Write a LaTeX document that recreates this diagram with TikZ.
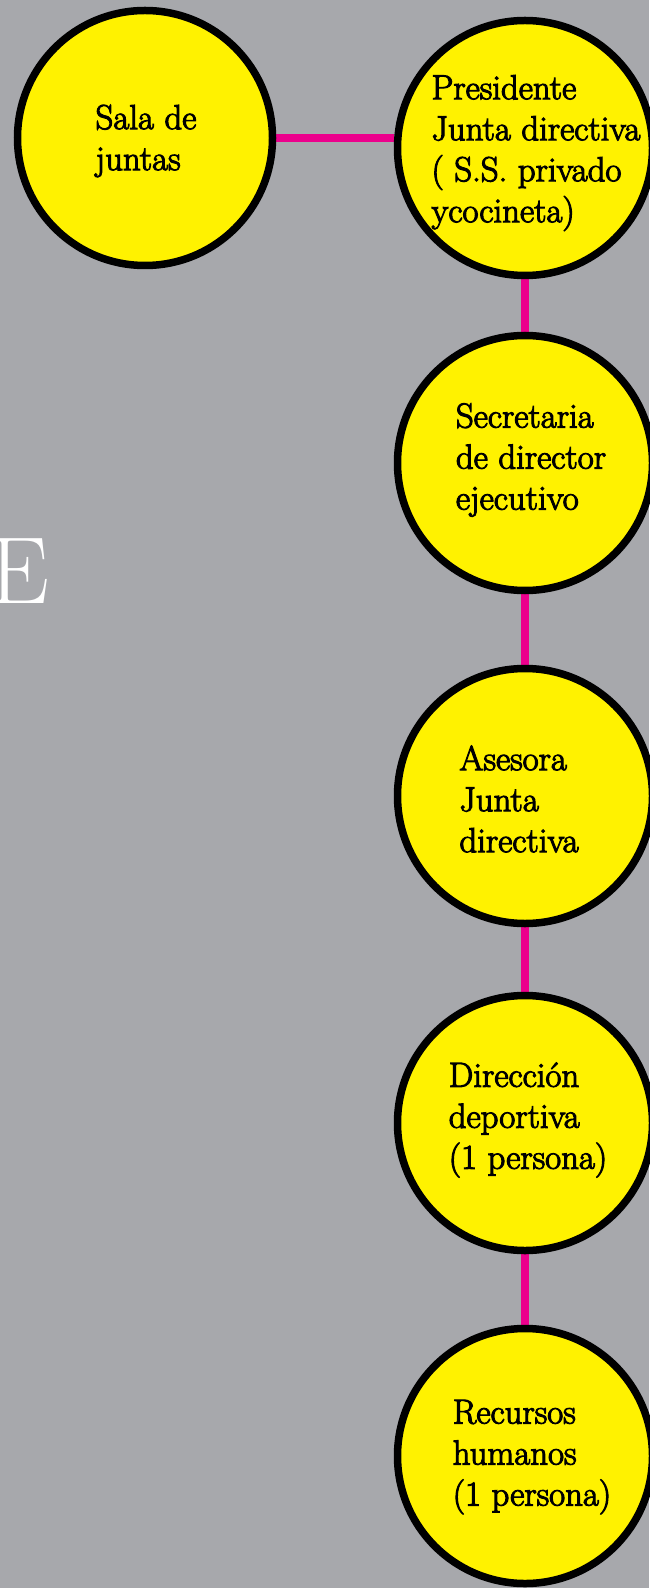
\documentclass[tikz,border=0pt]{standalone}
\usepackage{fontspec}
\usetikzlibrary{backgrounds}
\newfontfamily\boardfont{Latin Modern Roman}[FakeBold=3]
\definecolor{boardgray}{HTML}{A7A8AC}
\definecolor{seatyellow}{HTML}{FFF200}
\definecolor{linkpink}{HTML}{EC008C}
\tikzset{
  hub/.style={circle, draw=black, line width=3.75pt, fill=seatyellow,
    minimum size=127.5pt, inner sep=0pt},
  hubtext/.style={align=left, inner sep=0pt,
    font=\boardfont\fontsize{17.4}{20.5}\selectfont},
  link/.style={linkpink, line width=4pt}
}
\begin{document}
\begin{tikzpicture}[x=0.5pt, y=-0.5pt]
  \useasboundingbox (0,0) rectangle (649,1588);
  % Circles
  \node[hub] (sala) at (145,138) {};
  \node[hub] (pres) at (525,148) {};
  \node[hub] (secr) at (525,463) {};
  \node[hub] (ases) at (525,796) {};
  \node[hub] (dirdep) at (525,1123) {};
  \node[hub] (rrhh) at (525,1456) {};
  % Texts inside the circles
  \node[hubtext] (salaT) at (146,141) {Sala de\\juntas};
  \node[hubtext] (presT) at (536,153) {Presidente\\Junta directiva\\( S.S. privado\\ycocineta)};
  \node[hubtext] (secrT) at (531,460) {Secretaria\\de director\\ejecutivo};
  \node[hubtext] (asesT) at (519,799) {Asesora\\Junta\\directiva};
  \node[hubtext] (dirdepT) at (528,1120) {Direcci\'on\\deportiva\\(1 persona)};
  \node[hubtext] (rrhhT) at (532,1457) {Recursos\\humanos\\(1 persona)};
  % Big letter cut by the left edge
  \node[white, anchor=base east, inner sep=0pt,
    font=\fontsize{47.6}{50}\selectfont] (bigE) at (50,603) {E};
  % Background and connectors
  \begin{scope}[on background layer]
    \fill[boardgray] (0,0) rectangle (649,1588);
    \draw[link] (sala.east) -- (sala.east -| pres.west);
    \draw[link] (pres) -- (secr);
    \draw[link] (secr) -- (ases);
    \draw[link] (ases) -- (dirdep);
    \draw[link] (dirdep) -- (rrhh);
  \end{scope}
\end{tikzpicture}
\end{document}
